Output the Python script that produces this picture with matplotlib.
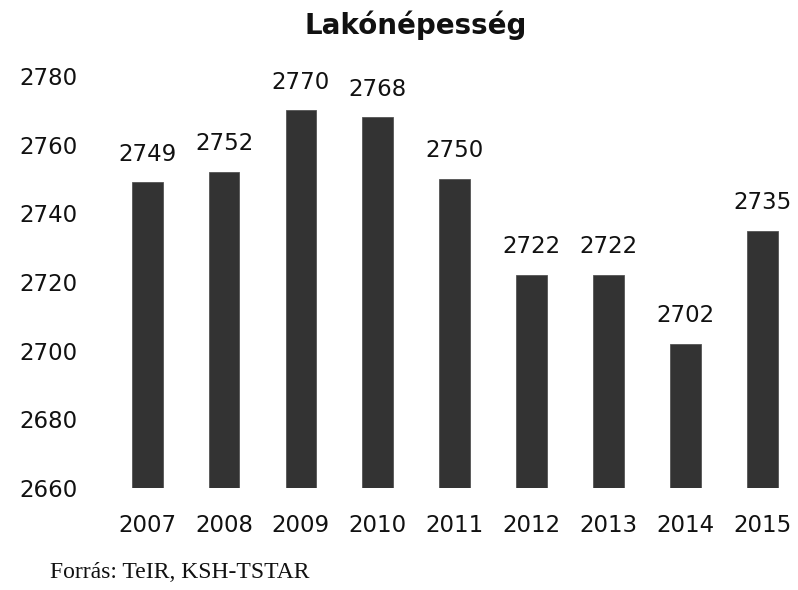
import matplotlib
matplotlib.use("Agg")
import matplotlib.pyplot as plt

years = ["2007", "2008", "2009", "2010", "2011", "2012", "2013", "2014", "2015"]
values = [2749, 2752, 2770, 2768, 2750, 2722, 2722, 2702, 2735]
yticks = [2660, 2680, 2700, 2720, 2740, 2760, 2780]
title = "Lakónépesség"
source = "Forrás: TeIR, KSH-TSTAR"

W, H = 798, 590
fig = plt.figure(figsize=(W / 100, H / 100), dpi=100)
fig.patch.set_facecolor("white")

# axes placed in pixel terms
left_px, right_px = 101, 793
top_px, bottom_px = 76, 488
ax = fig.add_axes([left_px / W, 1 - bottom_px / H,
                   (right_px - left_px) / W, (bottom_px - top_px) / H])

x = list(range(len(years)))
bars = ax.bar(x, [v - 2660 for v in values], bottom=2660, width=0.40,
              color="#333333", edgecolor="#555555", linewidth=0.6, zorder=2)

for xi, v in zip(x, values):
    ax.annotate(str(v), (xi, v), xytext=(0, 12), textcoords="offset points",
                ha="center", va="bottom", fontsize=16.5, color="#111111",
                family="DejaVu Sans")

ax.set_xlim(-0.6, 8.4)
ax.set_ylim(2660, 2780)
ax.set_yticks(yticks)
ax.set_yticklabels([str(t) for t in yticks])
ax.set_xticks(x)
ax.set_xticklabels(years)
ax.tick_params(axis="y", length=0, pad=17, labelsize=16.5, labelcolor="#111111")
ax.tick_params(axis="x", length=0, pad=19, labelsize=16.5, labelcolor="#111111")
for lab in ax.get_xticklabels() + ax.get_yticklabels():
    lab.set_family("DejaVu Sans")
for s in ax.spines.values():
    s.set_visible(False)
ax.set_facecolor("white")

fig.text(416 / W, 1 - 25 / H, title, ha="center", va="center",
         fontsize=20, fontweight="bold", family="DejaVu Sans", color="#111111")
fig.text(50 / W, 1 - 572 / H, source, ha="left", va="center",
         fontsize=17, family="Liberation Serif", color="#111111")

fig.savefig("out.png", dpi=100, facecolor="white")
